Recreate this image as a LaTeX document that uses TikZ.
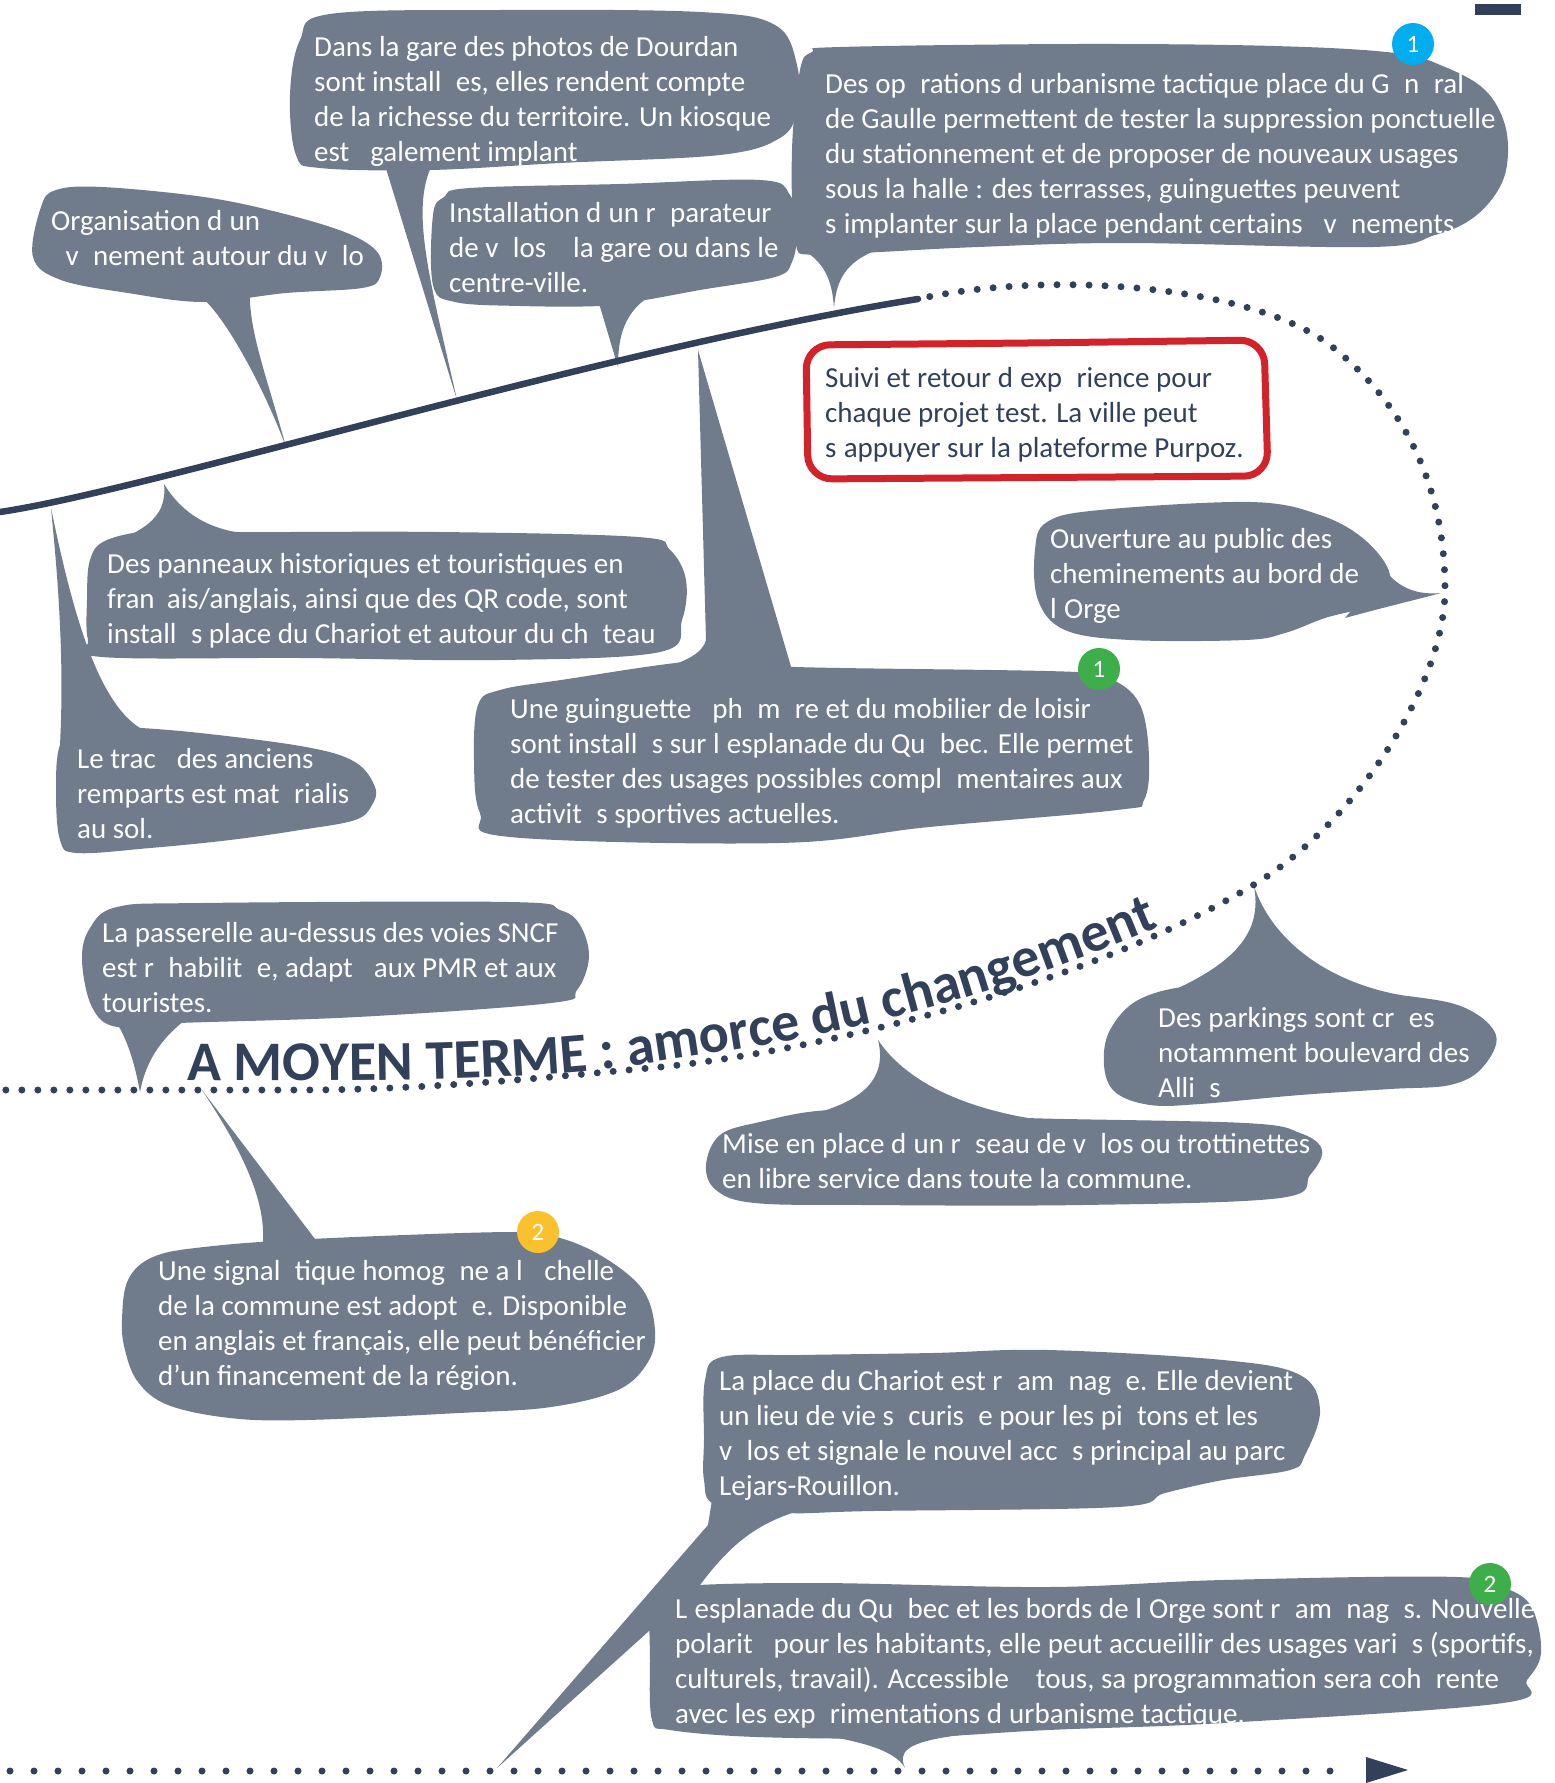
\documentclass[tikz,border=0pt]{standalone}
\usepackage{fontspec}
\setmainfont{Carlito}
\usetikzlibrary{decorations.text}
\definecolor{bub}{RGB}{112,123,140}
\definecolor{navy}{RGB}{50,64,90}
\definecolor{redbox}{RGB}{210,35,42}
\definecolor{bblue}{RGB}{0,174,239}
\definecolor{bgreen}{RGB}{61,174,73}
\definecolor{byellow}{RGB}{251,192,45}
\newcommand{\miss}[1]{\phantom{#1}}
\newcommand{\bodyfont}{\fontsize{29}{35}\selectfont}
\newcommand{\titlefont}{\bfseries\fontsize{56}{60}\selectfont}
\newcommand{\st}{\rule{0pt}{24pt}}
\begin{document}
\begin{tikzpicture}[x=1pt,y=-1pt,
  bub/.style={fill=bub},
  txt/.style={anchor=north west, inner sep=0pt, align=left, font=\bodyfont, text=white},
  badge/.style={circle, minimum size=42pt, inner sep=0pt, font=\fontsize{25}{25}\selectfont, text=white},
  dotline/.style={draw=navy, line width=7pt, line cap=round, dash pattern=on 0pt off 16pt},
  mainline/.style={draw=navy, line width=6.5pt, line cap=round}]
\useasboundingbox[fill=white] (0,0) rectangle (1555,1783);

% ---------- bubbles ----------
% B1
\fill[bub] plot[smooth cycle, tension=0.6] coordinates {(296,155) (290,95) (300,40) (330,14) (500,10) (700,12) (775,25) (797,65) (797,110) (780,138) (720,155) (560,163) (430,170) (320,168)};
\fill[bub] (384,162) -- (457,400) .. controls (430,280) and (410,210) .. (432,165) -- cycle;
% B2
\fill[bub] plot[smooth cycle, tension=0.6] coordinates {(41,207) (56,190) (102,187) (204,197) (281,213) (347,233) (378,253) (380,277) (362,288) (286,293) (204,302) (128,293) (61,280) (33,257)};
\fill[bub] (200,296) .. controls (225,315) and (265,390) .. (286,447) .. controls (268,380) and (248,330) .. (250,290) -- cycle;
% B3
\fill[bub] plot[smooth cycle, tension=0.6] coordinates {(433,215) (444,197) (470,188) (620,184) (760,180) (790,195) (797,230) (792,262) (775,277) (700,290) (645,300) (600,306) (520,306) (455,302) (433,285)};
\fill[bub] (598,300) -- (618,367) .. controls (618,335) and (625,312) .. (650,296) -- cycle;
% B4
\fill[bub] plot[smooth cycle, tension=0.6] coordinates {(800,70) (812,52) (840,47) (1077,44) (1274,46) (1395,53) (1445,67) (1485,90) (1505,125) (1507,165) (1495,195) (1470,220) (1435,235) (1373,247) (1126,243) (978,247) (880,252) (812,255) (795,240) (792,150)};
\fill[bub] (800,248) .. controls (825,262) and (832,280) .. (834,308) .. controls (836,285) and (842,265) .. (872,252) -- cycle;
% B6
\fill[bub] plot[smooth cycle, tension=0.6] coordinates {(1038,600) (1035,550) (1047,522) (1100,510) (1250,502) (1320,515) (1365,540) (1390,575) (1375,603) (1325,618) (1285,633) (1245,640) (1130,640) (1065,630)};
\fill[bub] (1385,570) .. controls (1400,590) and (1420,595) .. (1441,593) .. controls (1415,600) and (1385,607) .. (1345,618) -- cycle;
% B7
\fill[bub] plot[smooth cycle, tension=0.6] coordinates {(87,600) (90,560) (107,540) (160,530) (240,532) (440,532) (638,537) (670,550) (686,580) (682,620) (660,652) (500,660) (300,658) (102,657) (88,640)};
\fill[bub] (100,548) .. controls (140,532) and (168,520) .. (164,484) .. controls (180,510) and (205,530) .. (250,534) -- cycle;
% B8
\fill[bub] plot[smooth cycle, tension=0.6] coordinates {(56,790) (60,745) (80,728) (122,727) (200,733) (306,747) (355,762) (375,787) (372,805) (355,820) (300,830) (230,840) (150,848) (77,853) (60,840)};
\fill[bub] (60,745) .. controls (65,650) and (56,560) .. (51,508) .. controls (70,600) and (95,700) .. (140,728) -- cycle;
% B9
\fill[bub] plot[smooth cycle, tension=0.6] coordinates {(474,760) (478,705) (500,690) (561,680) (707,660) (796,667) (1077,672) (1117,682) (1141,707) (1149,757) (1144,800) (1117,810) (929,827) (780,843) (510,837) (480,813)};
\fill[bub] (540,685) .. controls (640,678) and (700,665) .. (706,640) -- (698,350) -- (792,670) -- cycle;
% B10
\fill[bub] plot[smooth cycle, tension=0.6] coordinates {(82,960) (90,928) (117,907) (200,903) (510,902) (560,910) (580,925) (589,957) (577,990) (551,1003) (357,1017) (179,1023) (117,1027) (92,1007)};
\fill[bub] (115,1020) .. controls (128,1040) and (135,1065) .. (140,1092) .. controls (145,1065) and (158,1040) .. (188,1018) -- cycle;
% B11
\fill[bub] plot[smooth cycle, tension=0.6] coordinates {(122,1320) (128,1280) (153,1257) (204,1247) (311,1239) (510,1232) (560,1238) (605,1258) (643,1290) (655,1330) (648,1362) (618,1390) (551,1407) (459,1413) (306,1420) (230,1418) (168,1405) (138,1382) (125,1350)};
\fill[bub] (202,1090) .. controls (235,1140) and (270,1200) .. (262,1250) -- (318,1243) -- cycle;
% B12
\fill[bub] plot[smooth cycle, tension=0.6] coordinates {(706,1165) (720,1135) (760,1122) (830,1110) (950,1112) (1027,1118) (1245,1123) (1300,1133) (1322,1150) (1310,1175) (1280,1198) (1082,1205) (864,1205) (755,1203) (716,1190)};
\fill[bub] (820,1112) .. controls (860,1100) and (888,1080) .. (878,1040) .. controls (905,1080) and (960,1108) .. (1040,1120) -- cycle;
% B13
\fill[bub] plot[smooth cycle, tension=0.6] coordinates {(1104,1065) (1110,1030) (1140,999) (1200,985) (1300,985) (1400,995) (1463,1007) (1496,1035) (1482,1068) (1450,1085) (1390,1089) (1300,1095) (1200,1104) (1150,1105) (1115,1092)};
\fill[bub] (1150,1000) .. controls (1240,965) and (1262,930) .. (1254,886) .. controls (1270,935) and (1320,980) .. (1400,995) -- cycle;
% B14
\fill[bub] plot[smooth cycle, tension=0.6] coordinates {(704,1440) (705,1380) (722,1357) (800,1355) (932,1353) (1048,1350) (1223,1360) (1300,1375) (1320,1410) (1305,1455) (1290,1470) (1223,1480) (1165,1493) (1118,1507) (873,1511) (786,1513) (716,1505) (704,1480)};
\fill[bub] (712,1500) -- (708,1525) -- (497,1768) -- (700,1585) .. controls (730,1545) and (755,1525) .. (795,1512) -- cycle;
% B15
\fill[bub] plot[smooth cycle, tension=0.6] coordinates {(650,1660) (652,1603) (675,1587) (815,1583) (1048,1587) (1223,1580) (1457,1577) (1510,1590) (1533,1610) (1541,1653) (1527,1680) (1503,1703) (1223,1723) (1048,1730) (903,1738) (757,1737) (670,1730) (652,1720)};
\fill[bub] (800,1732) .. controls (860,1740) and (895,1750) .. (905,1768) .. controls (898,1752) and (905,1742) .. (960,1735) -- cycle;

% red box
\draw[draw=redbox, line width=7pt, rounded corners=24pt] (1030,343) -- (1264,340) -- (1268,476) -- (808,479) -- (806,345) -- cycle;

% ---------- lines ----------
\coordinate (lineA) at (0,512);
\coordinate (lineB) at (918,299);
\draw[mainline] (lineA) .. controls (150,490) and (600,350) .. (lineB);
\draw[dotline, dash phase=4pt] (lineB) .. controls (1050,270) and (1250,285) .. (1330,345) .. controls (1400,400) and (1445,480) .. (1445,590) .. controls (1445,680) and (1360,820) .. (1255,884) .. controls (1080,990) and (800,1055) .. (650,1068) .. controls (560,1076) and (430,1090) .. (300,1090) -- (-5,1090);
\coordinate (botA) at (10,1771);
\coordinate (botB) at (1346,1771);
\draw[dotline, dash pattern=on 0pt off 24pt] (botA) -- (botB);
\fill[navy] (1366,1757) -- (1408,1770) -- (1366,1783) -- cycle;
\fill[navy] (1475,4) rectangle (1521,15);

% ---------- title ----------
\path[decorate, decoration={text along path, text align=left,
  text={|\titlefont\color{navy}|A MOYEN TERME : amorce du changement}}]
  (187,1080) .. controls (420,1082) and (560,1078) .. (650,1063) .. controls (760,1045) and (920,1030) .. (1170,922) -- (1300,866);

% ---------- badges ----------
\node[badge, fill=bblue] (n1) at (1413,44) {1};
\node[badge, fill=bgreen] (n2) at (1099,669) {1};
\node[badge, fill=byellow] (n3) at (538,1232) {2};
\node[badge, fill=bgreen] (n4) at (1490,1584) {2};

% ---------- texts ----------
\node[txt] (t1) at (314,32) {\st Dans la gare des photos de Dourdan\\ sont install\miss{é}es, elles rendent compte\\ de la richesse du territoire. Un kiosque\\ est \miss{é}galement implant\miss{é}};
\node[txt] (t2) at (51,206) {\st Organisation d\miss{’}un\\ \miss{é}v\miss{é}nement autour du v\miss{é}lo};
\node[txt] (t3) at (449,198) {\st Installation d\miss{’}un r\miss{é}parateur\\ de v\miss{é}los \miss{à} la gare ou dans le\\ centre-ville.};
\node[txt] (t4) at (825,69) {\st Des op\miss{é}rations d\miss{’}urbanisme tactique place du G\miss{é}n\miss{é}ral\\ de Gaulle permettent de tester la suppression ponctuelle\\ du stationnement et de proposer de nouveaux usages\\ sous la halle : des terrasses, guinguettes peuvent\\ s\miss{’}implanter sur la place pendant certains \miss{é}v\miss{é}nements};
\node[txt, text=navy] (t5) at (825,363) {\st Suivi et retour d\miss{’}exp\miss{é}rience pour\\ chaque projet test. La ville peut\\ s\miss{’}appuyer sur la plateforme Purpoz.};
\node[txt] (t6) at (1050,524) {\st Ouverture au public des\\ cheminements au bord de\\ l\miss{’}Orge};
\node[txt] (t7) at (107,549) {\st Des panneaux historiques et touristiques en\\ fran\miss{ç}ais/anglais, ainsi que des QR code, sont\\ install\miss{é}s place du Chariot et autour du ch\miss{â}teau};
\node[txt] (t8) at (77,744) {\st Le trac\miss{é} des anciens\\ remparts est mat\miss{é}rialis\miss{é}\\ au sol.};
\node[txt] (t9) at (510,694) {\st Une guinguette \miss{é}ph\miss{é}m\miss{è}re et du mobilier de loisir\\ sont install\miss{é}s sur l\miss{’}esplanade du Qu\miss{é}bec. Elle permet\\ de tester des usages possibles compl\miss{é}mentaires aux\\ activit\miss{é}s sportives actuelles.};
\node[txt] (t10) at (102,918) {\st La passerelle au-dessus des voies SNCF\\ est r\miss{é}habilit\miss{é}e, adapt\miss{é} aux PMR et aux\\ touristes.};
\node[txt] (t11) at (158,1256) {\st Une signal\miss{é}tique homog\miss{è}ne a l\miss{’}\miss{é}chelle\\ de la commune est adopt\miss{é}e. Disponible\\ en anglais et français, elle peut bénéficier\\ d’un financement de la région.};
\node[txt] (t12) at (722,1129) {\st Mise en place d\miss{’}un r\miss{é}seau de v\miss{é}los ou trottinettes\\ en libre service dans toute la commune.};
\node[txt] (t13) at (1158,1003) {\st Des parkings sont cr\miss{é}es\\ notamment boulevard des\\ Alli\miss{é}s};
\node[txt] (t14) at (719,1366) {\st La place du Chariot est r\miss{é}am\miss{é}nag\miss{é}e. Elle devient\\ un lieu de vie s\miss{é}curis\miss{é}e pour les pi\miss{é}tons et les\\ v\miss{é}los et signale le nouvel acc\miss{è}s principal au parc\\ Lejars-Rouillon.};
\node[txt] (t15) at (675,1594) {\st L\miss{’}esplanade du Qu\miss{é}bec et les bords de l\miss{’}Orge sont r\miss{é}am\miss{é}nag\miss{é}s. Nouvelle\\ polarit\miss{é} pour les habitants, elle peut accueillir des usages vari\miss{é}s (sportifs,\\ culturels, travail). Accessible \miss{à} tous, sa programmation sera coh\miss{é}rente\\ avec les exp\miss{é}rimentations d\miss{’}urbanisme tactique.};
\end{tikzpicture}
\end{document}
